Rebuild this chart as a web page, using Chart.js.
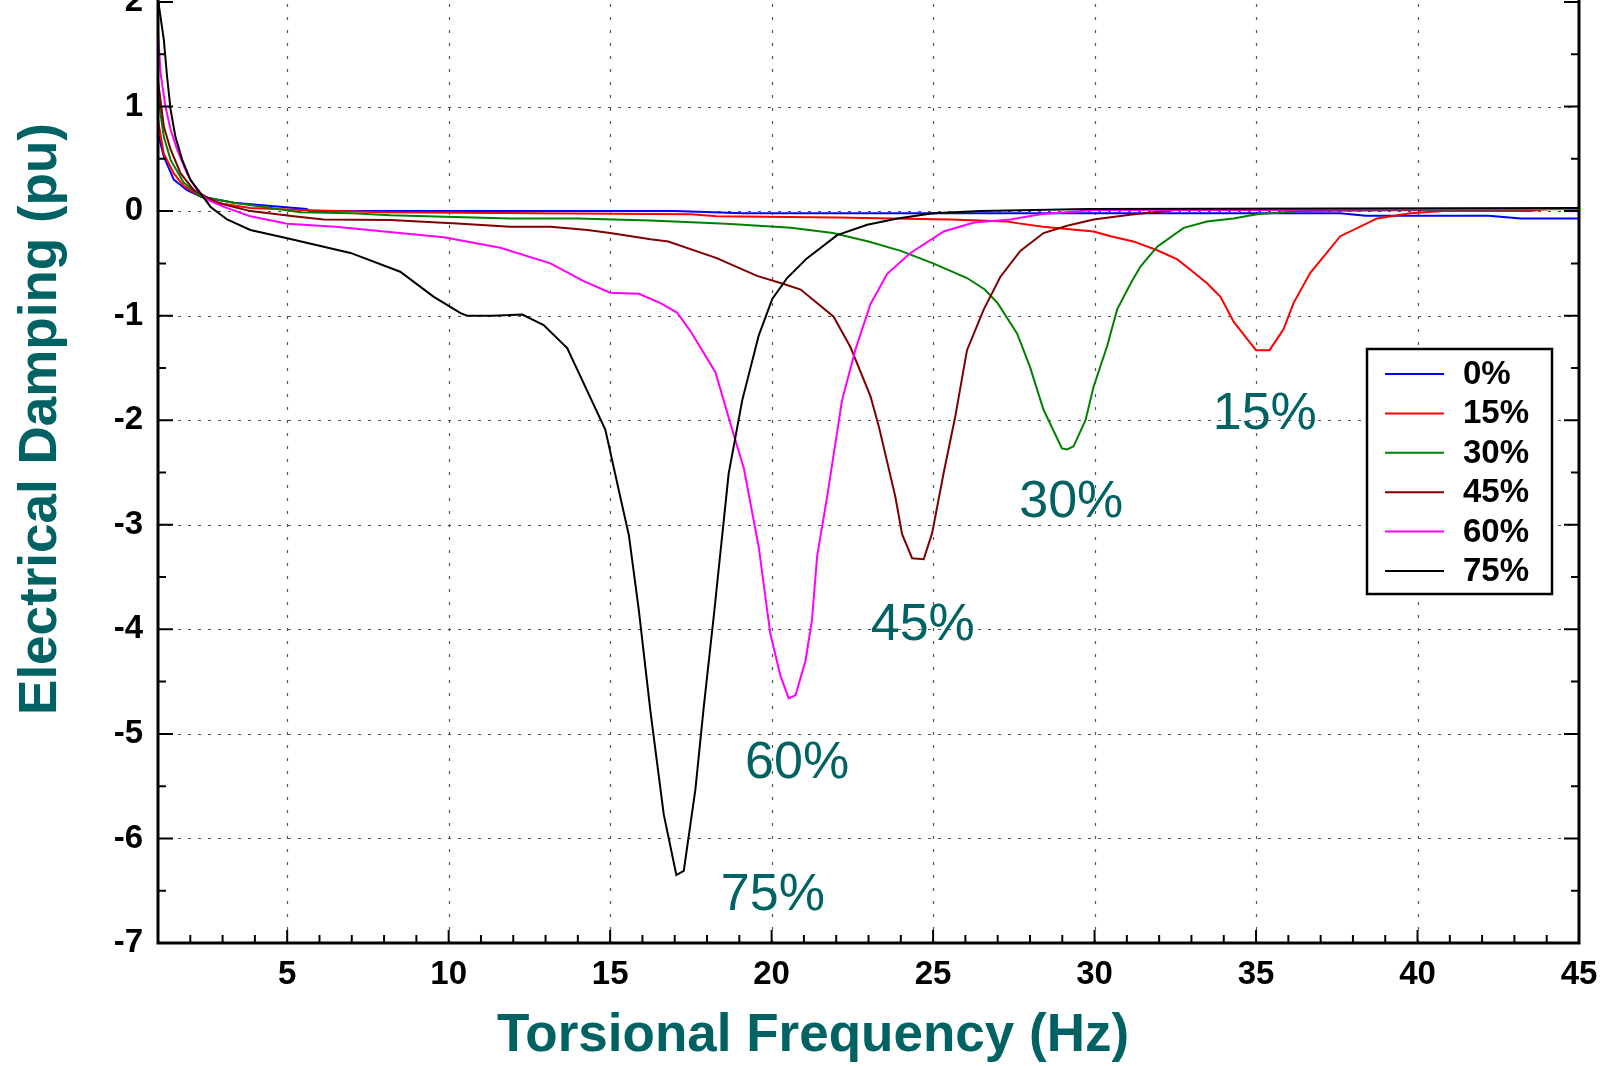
<!DOCTYPE html>
<html>
<head>
<meta charset="utf-8">
<script src="https://cdn.jsdelivr.net/npm/chart.js@4.4.1/dist/chart.umd.min.js"></script>
<style>
  html, body { margin: 0; padding: 0; background: #fff; }
  #myChart { display: block; }
</style>
</head>
<body>
<canvas id="myChart" width="1603" height="1066"></canvas>
<script>
// series: frequency (Hz) and electrical damping (pu)
var seriesNames = ["0%", "15%", "30%", "45%", "60%", "75%"];

var freq0 = [1.0, 1.18, 1.49, 1.9, 2.32, 3.35, 4.5, 5.6, 5.7, 17, 19.1, 37.6, 38.4, 42.2, 43.2, 45];
var damp0 = [0.75, 0.52, 0.30, 0.20, 0.14, 0.08, 0.05, 0.02, 0.0, 0.0, -0.02, -0.02, -0.045, -0.045, -0.07, -0.07];

var freq15 = [1.0, 1.18, 1.49, 1.8, 2.32, 3.0, 3.86, 5.4, 8, 17.5, 18.3, 22, 25.5, 27.3, 27.6, 28.4, 29.15, 29.97, 30.5, 31.2, 31.9, 32.55, 32.97, 33.48, 33.9, 34.31, 34.82, 35.0, 35.42, 35.85, 36.16, 36.68, 37.61, 38.75, 39.78, 40.8, 43.5, 44, 45];
var damp15 = [0.87, 0.55, 0.36, 0.24, 0.14, 0.07, 0.03, 0.01, -0.01, -0.03, -0.05, -0.06, -0.08, -0.10, -0.115, -0.15, -0.17, -0.195, -0.24, -0.29, -0.37, -0.46, -0.56, -0.69, -0.82, -1.06, -1.26, -1.33, -1.33, -1.13, -0.88, -0.59, -0.24, -0.07, -0.02, 0.0, 0.0, 0.02, 0.02];

var freq30 = [1.0, 1.18, 1.39, 1.8, 2.32, 3.35, 4.5, 5.4, 7, 8.2, 11.9, 14, 16.25, 18.6, 20.6, 21.9, 23.0, 24.0, 25.0, 26.05, 26.6, 27.0, 27.6, 28.0, 28.42, 28.99, 29.15, 29.35, 29.72, 29.97, 30.39, 30.7, 31.12, 31.42, 31.94, 32.76, 33.48, 34.3, 35.03, 36.37, 45];
var damp30 = [1.10, 0.71, 0.49, 0.27, 0.14, 0.08, 0.03, -0.01, -0.02, -0.04, -0.07, -0.07, -0.09, -0.12, -0.16, -0.21, -0.29, -0.38, -0.50, -0.64, -0.75, -0.88, -1.17, -1.49, -1.90, -2.27, -2.28, -2.25, -2.0, -1.68, -1.29, -0.94, -0.69, -0.53, -0.34, -0.16, -0.10, -0.07, -0.03, 0.0, 0.02];

var freq45 = [1.0, 1.18, 1.39, 1.7, 2.11, 2.83, 3.86, 5.2, 6.13, 8.2, 10.4, 11.9, 13.15, 14.3, 15.0, 16.25, 16.8, 18.3, 19.55, 20.4, 20.9, 21.92, 22.44, 23.06, 23.32, 23.83, 24.04, 24.35, 24.71, 24.97, 25.33, 25.69, 26.05, 26.57, 27.08, 27.7, 28.42, 29.15, 29.97, 31.1, 32.5, 45];
var damp45 = [1.25, 0.81, 0.59, 0.36, 0.20, 0.08, 0.0, -0.05, -0.08, -0.085, -0.12, -0.15, -0.15, -0.18, -0.21, -0.27, -0.29, -0.45, -0.62, -0.70, -0.75, -1.01, -1.30, -1.77, -2.06, -2.73, -3.09, -3.32, -3.33, -3.08, -2.50, -1.96, -1.33, -0.94, -0.63, -0.38, -0.21, -0.14, -0.08, -0.035, 0.01, 0.02];

var freq60 = [1.0, 1.08, 1.23, 1.39, 1.59, 1.9, 2.21, 2.52, 3.04, 3.86, 5.0, 6.5, 8.0, 9.85, 11.6, 13.15, 14.18, 15.0, 15.89, 16.56, 17.07, 17.49, 18.26, 18.78, 19.14, 19.6, 19.96, 20.27, 20.53, 20.74, 21.05, 21.25, 21.41, 21.72, 22.18, 22.6, 23.06, 23.58, 24.3, 25.33, 26.26, 27.4, 28.32, 30, 45];
var damp60 = [1.72, 1.32, 1.0, 0.78, 0.59, 0.36, 0.20, 0.11, 0.04, -0.05, -0.12, -0.15, -0.195, -0.25, -0.35, -0.50, -0.67, -0.78, -0.79, -0.88, -0.97, -1.15, -1.54, -2.09, -2.46, -3.21, -4.04, -4.44, -4.66, -4.63, -4.30, -3.91, -3.30, -2.73, -1.81, -1.32, -0.89, -0.60, -0.40, -0.195, -0.11, -0.08, -0.03, 0.01, 0.02];

var freq75 = [1.0, 1.03, 1.18, 1.28, 1.39, 1.54, 1.75, 2.0, 2.32, 2.63, 3.14, 3.86, 5.0, 6.96, 8.5, 9.54, 10.37, 10.57, 11.35, 12.28, 12.94, 13.67, 14.85, 15.37, 15.58, 15.89, 16.25, 16.66, 17.05, 17.28, 17.64, 17.9, 18.21, 18.67, 19.09, 19.6, 20.02, 20.48, 21.1, 22.03, 22.96, 23.9, 25.0, 26.46, 29.8, 45];
var damp75 = [2.4, 1.96, 1.64, 1.29, 0.97, 0.71, 0.49, 0.30, 0.17, 0.04, -0.08, -0.18, -0.26, -0.40, -0.58, -0.82, -0.975, -1.0, -1.0, -0.99, -1.09, -1.31, -2.09, -2.81, -3.10, -3.82, -4.79, -5.77, -6.35, -6.31, -5.53, -4.74, -3.87, -2.51, -1.81, -1.19, -0.84, -0.64, -0.45, -0.23, -0.13, -0.07, -0.02, 0.0, 0.02, 0.03];

var xTickLabels = [5, 10, 15, 20, 25, 30, 35, 40, 45];
var yTickLabels = [2, 1, 0, -1, -2, -3, -4, -5, -6, -7];

// where the teal percentage labels sit (data coords, text baseline)
var peakLabels = [
    { text: "15%", x: 35.27, y: -2.085 },
    { text: "30%", x: 29.28, y: -2.93 },
    { text: "45%", x: 24.68, y: -4.10 },
    { text: "60%", x: 20.79, y: -5.42 },
    { text: "75%", x: 20.04, y: -6.68 }
];

var colors = ["#0000ff", "#ff0000", "#008000", "#800000", "#ff00ff", "#000000"];
var teal = "#006262";
var fontFam = "'Liberation Sans', Arial, sans-serif";

function toPoints(xs, ys) {
    let pts = [];
    for (let i = 0; i < xs.length; i++) pts.push({ x: xs[i], y: ys[i] });
    return pts;
}

var allFreq = [freq0, freq15, freq30, freq45, freq60, freq75];
var allDamp = [damp0, damp15, damp30, damp45, damp60, damp75];

var datasets = [];
for (let i = 0; i < seriesNames.length; i++) {
    datasets.push({
        label: seriesNames[i],
        data: toPoints(allFreq[i], allDamp[i]),
        borderColor: colors[i],
        backgroundColor: colors[i],
        borderWidth: 2,
        pointRadius: 0,
        tension: 0,
        order: seriesNames.length - i
    });
}

// grid, frame, inward ticks, legend box and labels
var decorPlugin = {
    id: "decor",
    beforeDatasetsDraw(chart) {
        const ctx = chart.ctx;
        const xs = chart.scales.x, ys = chart.scales.y;
        const a = chart.chartArea;
        ctx.save();
        ctx.strokeStyle = "#555";
        ctx.lineWidth = 1.2;
        ctx.setLineDash([3, 10]);
        for (let v = 5; v <= 40; v += 5) {
            const px = Math.round(xs.getPixelForValue(v)) + 0.5;
            ctx.beginPath();
            ctx.moveTo(px, a.bottom);
            ctx.lineTo(px, a.top);
            ctx.stroke();
        }
        ctx.setLineDash([3, 7]);
        for (let v = 1; v >= -6; v--) {
            const py = Math.round(ys.getPixelForValue(v)) + 0.5;
            ctx.beginPath();
            ctx.moveTo(a.left, py);
            ctx.lineTo(a.right, py);
            ctx.stroke();
        }
        ctx.restore();
    },
    afterDraw(chart) {
        const ctx = chart.ctx;
        const xs = chart.scales.x, ys = chart.scales.y;
        const a = chart.chartArea;
        ctx.save();
        ctx.strokeStyle = "#000";
        ctx.setLineDash([]);

        // frame
        ctx.lineWidth = 3;
        ctx.beginPath();
        ctx.moveTo(a.left, 0);
        ctx.lineTo(a.left, a.bottom);
        ctx.lineTo(a.right, a.bottom);
        ctx.lineTo(a.right, 0);
        ctx.stroke();

        // ticks pointing inward
        ctx.lineWidth = 2;
        for (let v = 2; v <= 44; v++) {
            const px = xs.getPixelForValue(v);
            const len = v % 5 === 0 ? 13 : 8;
            ctx.beginPath();
            ctx.moveTo(px, a.bottom);
            ctx.lineTo(px, a.bottom - len);
            ctx.stroke();
        }
        for (let v = -6.5; v <= 2; v += 0.5) {
            const py = ys.getPixelForValue(v);
            const len = Number.isInteger(v) ? 15 : 8;
            ctx.beginPath();
            ctx.moveTo(a.left, py);
            ctx.lineTo(a.left + len, py);
            ctx.moveTo(a.right, py);
            ctx.lineTo(a.right - len, py);
            ctx.stroke();
        }

        // peak labels
        ctx.fillStyle = teal;
        ctx.font = "52px " + fontFam;
        ctx.textAlign = "center";
        ctx.textBaseline = "alphabetic";
        peakLabels.forEach(function (l) {
            ctx.fillText(l.text, xs.getPixelForValue(l.x), ys.getPixelForValue(l.y));
        });

        // axis titles
        ctx.font = "bold 53px " + fontFam;
        ctx.textBaseline = "middle";
        ctx.fillText("Torsional Frequency (Hz)", 813, 1036);
        ctx.save();
        ctx.translate(41, 419);
        ctx.rotate(-Math.PI / 2);
        ctx.fillText("Electrical Damping (pu)", 0, 0);
        ctx.restore();

        // legend
        const lx = 1367, ly = 349, lw = 185, lh = 245;
        ctx.fillStyle = "#fff";
        ctx.fillRect(lx, ly, lw, lh);
        ctx.lineWidth = 2.5;
        ctx.strokeStyle = "#000";
        ctx.strokeRect(lx, ly, lw, lh);
        ctx.font = "bold 33px " + fontFam;
        ctx.textAlign = "left";
        ctx.textBaseline = "middle";
        chart.data.datasets.forEach(function (ds, i) {
            const ry = 374 + i * 39.4;
            ctx.strokeStyle = ds.borderColor;
            ctx.lineWidth = 2;
            ctx.beginPath();
            ctx.moveTo(1385, ry);
            ctx.lineTo(1444, ry);
            ctx.stroke();
            ctx.fillStyle = "#000";
            ctx.fillText(ds.label, 1463, ry + 1);
        });
        ctx.restore();
    }
};

new Chart("myChart", {
    type: "line",
    data: { datasets: datasets },
    plugins: [decorPlugin],
    options: {
        responsive: false,
        animation: false,
        devicePixelRatio: 1,
        layout: { autoPadding: false, padding: { top: 2, right: 24, left: 0, bottom: 0 } },
        plugins: { legend: { display: false }, tooltip: { enabled: false } },
        scales: {
            x: {
                type: "linear",
                min: 1,
                max: 45,
                afterBuildTicks: function (scale) {
                    scale.ticks = xTickLabels.map(function (v) { return { value: v }; });
                },
                afterFit: function (scale) {
                    scale.height = 123;
                    scale.paddingLeft = 0;
                    scale.paddingRight = 0;
                },
                grid: { display: false, drawTicks: false },
                border: { display: false },
                ticks: {
                    color: "#000",
                    padding: 12,
                    maxRotation: 0,
                    autoSkip: false,
                    font: { family: fontFam, size: 33, weight: "bold" }
                }
            },
            y: {
                type: "linear",
                min: -7,
                max: 2,
                afterBuildTicks: function (scale) {
                    scale.ticks = yTickLabels.map(function (v) { return { value: v }; });
                },
                afterFit: function (scale) {
                    scale.width = 158;
                    scale.paddingTop = 0;
                    scale.paddingBottom = 0;
                },
                grid: { display: false, drawTicks: false },
                border: { display: false },
                ticks: {
                    color: "#000",
                    padding: 15,
                    autoSkip: false,
                    font: { family: fontFam, size: 33, weight: "bold" }
                }
            }
        }
    }
});
</script>
</body>
</html>
